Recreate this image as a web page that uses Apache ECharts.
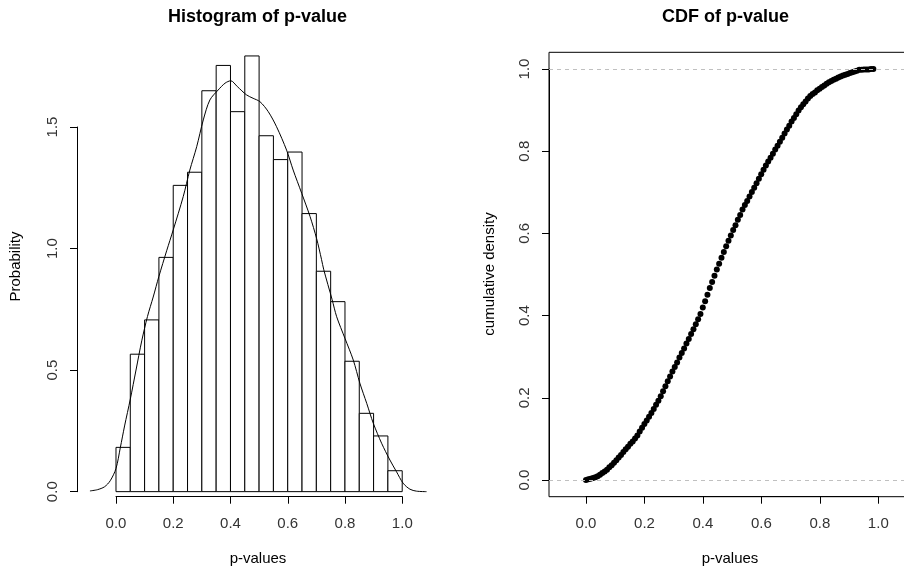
<!DOCTYPE html>
<html>
<head>
<meta charset="utf-8">
<style>
  html, body { margin: 0; padding: 0; background: #fff; }
  #main { width: 904px; height: 569px; }
</style>
<script src="https://cdn.jsdelivr.net/npm/echarts@6/dist/echarts.min.js"></script>
</head>
<body>
<div id="main"></div>
<script>
// histogram of p-values (density scale), bin width 0.05
var binEdges = [0, 0.05, 0.1, 0.15, 0.2, 0.25, 0.3, 0.35, 0.4, 0.45, 0.5,
                0.55, 0.6, 0.65, 0.7, 0.75, 0.8, 0.85, 0.9, 0.95, 1.0];
var binHeights = [0.182, 0.565, 0.706, 0.963, 1.259, 1.313, 1.648, 1.752, 1.562, 1.791,
                  1.463, 1.365, 1.396, 1.143, 0.906, 0.781, 0.536, 0.322, 0.229, 0.086];

// kernel density line over the histogram
var densX = [-0.091, -0.065, -0.040, -0.020, 0.000, 0.015, 0.030, 0.050, 0.070, 0.090,
             0.110, 0.130, 0.150, 0.177, 0.200, 0.235, 0.258, 0.282, 0.305, 0.328,
             0.357, 0.381, 0.401, 0.424, 0.456, 0.479, 0.503, 0.532, 0.561, 0.596,
             0.619, 0.649, 0.678, 0.701, 0.718, 0.726, 0.755, 0.771, 0.800, 0.829,
             0.852, 0.876, 0.899, 0.928, 0.957, 0.980, 1.003, 1.027, 1.050, 1.085];
var densY = [0.003, 0.008, 0.020, 0.045, 0.095, 0.180, 0.270, 0.380, 0.500, 0.620,
             0.720, 0.800, 0.885, 0.990, 1.076, 1.213, 1.322, 1.418, 1.528, 1.610,
             1.651, 1.679, 1.689, 1.665, 1.631, 1.617, 1.603, 1.562, 1.500, 1.404,
             1.322, 1.226, 1.131, 1.040, 0.955, 0.912, 0.790, 0.719, 0.630, 0.541,
             0.446, 0.363, 0.281, 0.199, 0.130, 0.082, 0.035, 0.010, 0.002, 0.000];

// empirical CDF points
var cdfX = [0.000, 0.008, 0.016, 0.024, 0.032, 0.040, 0.048, 0.056, 0.064, 0.072,
            0.080, 0.088, 0.096, 0.104, 0.112, 0.120, 0.128, 0.136, 0.144, 0.152,
            0.160, 0.168, 0.176, 0.184, 0.192, 0.200, 0.208, 0.216, 0.224, 0.232,
            0.240, 0.248, 0.256, 0.264, 0.272, 0.280, 0.288, 0.296, 0.304, 0.312,
            0.320, 0.328, 0.336, 0.344, 0.352, 0.360, 0.368, 0.376, 0.384, 0.392,
            0.400, 0.408, 0.416, 0.424, 0.432, 0.440, 0.448, 0.456, 0.464, 0.472,
            0.480, 0.488, 0.496, 0.504, 0.512, 0.520, 0.528, 0.536, 0.544, 0.552,
            0.560, 0.568, 0.576, 0.584, 0.592, 0.600, 0.608, 0.616, 0.624, 0.632,
            0.640, 0.648, 0.656, 0.664, 0.672, 0.680, 0.688, 0.696, 0.704, 0.712,
            0.720, 0.728, 0.736, 0.744, 0.752, 0.760, 0.768, 0.776, 0.784, 0.792,
            0.800, 0.808, 0.816, 0.824, 0.832, 0.840, 0.848, 0.856, 0.864, 0.872,
            0.880, 0.888, 0.896, 0.904, 0.912, 0.920, 0.928, 0.936, 0.944, 0.952,
            0.960, 0.968, 0.976, 0.984];
var cdfY = [0.000, 0.002, 0.003, 0.005, 0.007, 0.009, 0.013, 0.017, 0.021, 0.025,
            0.031, 0.036, 0.042, 0.048, 0.055, 0.061, 0.068, 0.075, 0.081, 0.088,
            0.094, 0.101, 0.108, 0.118, 0.127, 0.136, 0.145, 0.154, 0.163, 0.173,
            0.183, 0.193, 0.204, 0.216, 0.228, 0.240, 0.252, 0.264, 0.275, 0.286,
            0.298, 0.309, 0.320, 0.332, 0.343, 0.355, 0.367, 0.379, 0.391, 0.404,
            0.420, 0.435, 0.451, 0.467, 0.482, 0.497, 0.512, 0.526, 0.541, 0.555,
            0.569, 0.582, 0.595, 0.608, 0.620, 0.633, 0.645, 0.658, 0.669, 0.679,
            0.690, 0.701, 0.711, 0.722, 0.733, 0.744, 0.755, 0.765, 0.775, 0.784,
            0.794, 0.804, 0.813, 0.823, 0.833, 0.843, 0.853, 0.862, 0.872, 0.881,
            0.890, 0.899, 0.907, 0.914, 0.921, 0.928, 0.934, 0.939, 0.943, 0.948,
            0.952, 0.956, 0.960, 0.964, 0.968, 0.971, 0.974, 0.976, 0.979, 0.982,
            0.984, 0.986, 0.988, 0.990, 0.992, 0.994, 0.996, 0.998, 0.998, 0.999,
            0.999, 0.999, 1.000, 1.000];

var refLines = [0, 1];

var FONT = '"Liberation Sans", Arial, sans-serif';

var chart = echarts.init(document.getElementById('main'), null, { renderer: 'canvas' });

function buildBars() {
    var out = [];
    for (var i = 0; i < binHeights.length; i++) {
        out.push([binEdges[i], binEdges[i + 1], binHeights[i]]);
    }
    return out;
}

function zip(a, b) {
    return a.map(function (v, i) { return [v, b[i]]; });
}

function fmt(v) { return v.toFixed(1); }

var axisLineStyle = { color: '#000', width: 1 };
var labelStyle = { color: '#333', fontSize: 15, fontFamily: FONT };

function visibleX(grid, max, offset) {
    return {
        type: 'value', gridIndex: grid, min: 0, max: max, interval: 0.2, offset: offset,
        axisLine: { show: true, onZero: false, lineStyle: axisLineStyle },
        axisTick: { show: true, length: 7, lineStyle: axisLineStyle },
        axisLabel: Object.assign({ margin: 20, formatter: fmt }, labelStyle),
        splitLine: { show: false }
    };
}

function visibleY(grid, max, interval, offset) {
    return {
        type: 'value', gridIndex: grid, min: 0, max: max, interval: interval, offset: offset,
        axisLine: { show: true, onZero: false, lineStyle: axisLineStyle },
        axisTick: { show: true, length: 7, lineStyle: axisLineStyle },
        axisLabel: Object.assign({ margin: 17, rotate: 90, formatter: fmt }, labelStyle),
        splitLine: { show: false }
    };
}

function hiddenAxis(grid, min, max) {
    return { type: 'value', gridIndex: grid, min: min, max: max, show: false, splitLine: { show: false } };
}

function textEl(x, y, text, size, bold, rot) {
    return {
        type: 'text', x: x, y: y, rotation: rot || 0,
        style: {
            text: text, fill: '#000', align: 'center', verticalAlign: 'middle',
            font: (bold ? 'bold ' : '') + size + 'px ' + FONT
        }
    };
}

var option = {
    animation: false,
    backgroundColor: '#fff',
    grid: [
        // histogram axes (spanning 0..1 and 0..1.5, as in R)
        { left: 116, right: 501.7, top: 127, bottom: 77.3, outerBoundsMode: 'none', containLabel: false },
        // histogram plot region (data)
        { left: 77, right: 462.8, top: 36, bottom: 72, outerBoundsMode: 'none', containLabel: false },
        // CDF box (full plot region, data)
        { left: 549, right: -11, top: 52.3, bottom: 72.3, show: true, borderColor: '#000', borderWidth: 1,
          backgroundColor: 'transparent', outerBoundsMode: 'none', containLabel: false },
        // CDF axes
        { left: 586, right: 25.7, top: 69, bottom: 89, outerBoundsMode: 'none', containLabel: false }
    ],
    xAxis: [
        visibleX(0, 1, 5),
        hiddenAxis(1, -0.1362, 1.1362),
        hiddenAxis(2, -0.1266, 1.1266),
        visibleX(3, 1, 16.7)
    ],
    yAxis: [
        visibleY(0, 1.5, 0.5, 39),
        hiddenAxis(1, -0.022, 1.873),
        hiddenAxis(2, -0.0406, 1.0406),
        visibleY(3, 1, 0.2, 37)
    ],
    graphic: [
        textEl(257.5, 17.5, 'Histogram of p-value', 18, true),
        textEl(725.5, 17.5, 'CDF of p-value', 18, true),
        textEl(258, 559, 'p-values', 15, false),
        textEl(730, 559, 'p-values', 15, false),
        textEl(16, 266.5, 'Probability', 15, false, Math.PI / 2),
        textEl(490, 274, 'cumulative density', 15, false, Math.PI / 2)
    ],
    series: [
        {
            type: 'custom',
            xAxisIndex: 1, yAxisIndex: 1,
            data: buildBars(),
            encode: { x: [0, 1], y: 2 },
            renderItem: function (params, api) {
                var p0 = api.coord([api.value(0), 0]);
                var p1 = api.coord([api.value(1), api.value(2)]);
                return {
                    type: 'rect',
                    shape: { x: p0[0], y: p1[1], width: p1[0] - p0[0], height: p0[1] - p1[1] },
                    style: { fill: '#fff', stroke: '#000', lineWidth: 1 }
                };
            }
        },
        {
            type: 'line',
            xAxisIndex: 1, yAxisIndex: 1,
            data: zip(densX, densY),
            smooth: 0.3,
            showSymbol: false,
            lineStyle: { color: '#000', width: 1 },
            z: 3
        },
        {
            type: 'line',
            xAxisIndex: 2, yAxisIndex: 2,
            data: [],
            z: 1,
            markLine: {
                silent: true,
                symbol: 'none',
                label: { show: false },
                lineStyle: { color: '#c0c0c0', type: [4, 4], width: 1 },
                data: refLines.map(function (v) { return { yAxis: v }; })
            }
        },
        {
            type: 'scatter',
            xAxisIndex: 2, yAxisIndex: 2,
            data: zip(cdfX, cdfY),
            symbolSize: 6,
            itemStyle: { color: '#000', opacity: 1 },
            z: 4
        }
    ]
};

chart.setOption(option);
</script>
</body>
</html>
